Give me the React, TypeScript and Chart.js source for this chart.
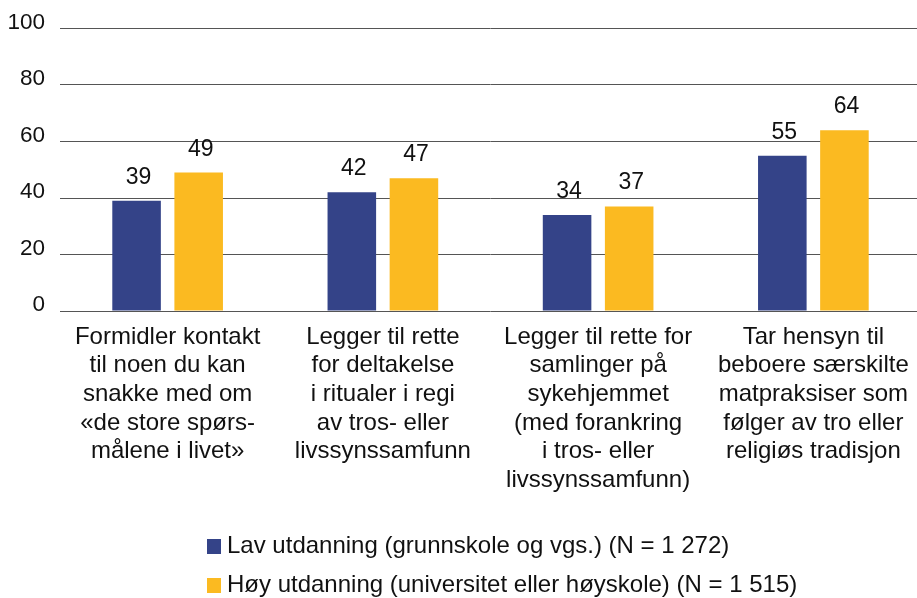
import React, { useEffect, useRef } from "react";
import { Chart, registerables } from "chart.js";

Chart.register(...registerables);

const categories: string[][] = [
  ["Formidler kontakt", "til noen du kan", "snakke med om", "«de store spørs-", "målene i livet»"],
  ["Legger til rette", "for deltakelse", "i ritualer i regi", "av tros- eller", "livssynssamfunn"],
  ["Legger til rette for", "samlinger på", "sykehjemmet", "(med forankring", "i tros- eller", "livssynssamfunn)"],
  ["Tar hensyn til", "beboere særskilte", "matpraksiser som", "følger av tro eller", "religiøs tradisjon"],
];
const lowLabel = "Lav utdanning (grunnskole og vgs.) (N = 1 272)";
const highLabel = "Høy utdanning (universitet eller høyskole) (N = 1 515)";
const lowValues = [39, 42, 34, 55];
const highValues = [49, 47, 37, 64];
const yTicks = [0, 20, 40, 60, 80, 100];

const NAVY = "#344388";
const YELLOW = "#FBBA21";
const FONT = "'Liberation Sans', Arial, sans-serif";

const valueLabels = {
  id: "valueLabels",
  afterDatasetsDraw(chart: any) {
    const ctx = chart.ctx;
    ctx.save();
    ctx.font = `23px ${FONT}`;
    ctx.fillStyle = "#111";
    ctx.textAlign = "center";
    ctx.textBaseline = "alphabetic";
    chart.data.datasets.forEach((ds: any, i: number) => {
      const meta = chart.getDatasetMeta(i);
      meta.data.forEach((el: any, j: number) => {
        ctx.fillText(String(ds.data[j]), el.x + 2, el.y - 17);
      });
    });
    ctx.restore();
  },
};

const bottomLegend = {
  id: "bottomLegend",
  afterDraw(chart: any) {
    const ctx = chart.ctx;
    ctx.save();
    ctx.font = `24px ${FONT}`;
    ctx.textAlign = "left";
    ctx.textBaseline = "alphabetic";
    const left = 207;
    const rows = chart.data.datasets.map((ds: any) => ({ label: ds.label, color: ds.backgroundColor }));
    rows.forEach((r: any, i: number) => {
      const baseY = chart.height - 45 + i * 39;
      ctx.fillStyle = r.color;
      ctx.fillRect(left, baseY - 14, 14, 15);
      ctx.fillStyle = "#111";
      ctx.fillText(r.label, left + 20, baseY);
    });
    ctx.restore();
  },
};

export default function App() {
  const ref = useRef<HTMLCanvasElement | null>(null);
  useEffect(() => {
    if (!ref.current) return;
    const chart = new Chart(ref.current, {
      type: "bar",
      data: {
        labels: categories,
        datasets: [
          { label: lowLabel, data: lowValues, backgroundColor: NAVY, categoryPercentage: 0.577, barPercentage: 0.782 },
          { label: highLabel, data: highValues, backgroundColor: YELLOW, categoryPercentage: 0.577, barPercentage: 0.782 },
        ],
      },
      options: {
        animation: false,
        responsive: true,
        maintainAspectRatio: false,
        layout: { padding: { left: 0, right: 0, top: 26, bottom: 90 } },
        plugins: { legend: { display: false }, tooltip: { enabled: false } },
        scales: {
          x: {
            grid: { display: false },
            border: { display: false },
            ticks: {
              font: { family: FONT, size: 24, lineHeight: 1.19 },
              color: "#111",
              maxRotation: 0,
              autoSkip: false,
              padding: 4,
            },
            afterFit: (s: any) => {
              s.height = 197;
            },
          },
          y: {
            min: 0,
            max: 100,
            afterBuildTicks: (s: any) => {
              s.ticks = yTicks.map((v) => ({ value: v }));
            },
            grid: { color: "#555", drawTicks: false, lineWidth: 1 },
            border: { display: false },
            ticks: {
              font: { family: FONT, size: 22.5 },
              color: "#111",
              padding: 15,
              labelOffset: -6,
            },
            afterFit: (s: any) => {
              s.width = 60;
            },
          },
        },
      },
      plugins: [valueLabels, bottomLegend],
    });
    return () => chart.destroy();
  }, []);
  return (
    <div style={{ position: "absolute", left: 0, top: 0, width: 917, height: 598, overflow: "hidden", background: "#fff" }}>
      <div style={{ position: "relative", width: 921, height: 598 }}>
        <canvas ref={ref} />
      </div>
    </div>
  );
}
